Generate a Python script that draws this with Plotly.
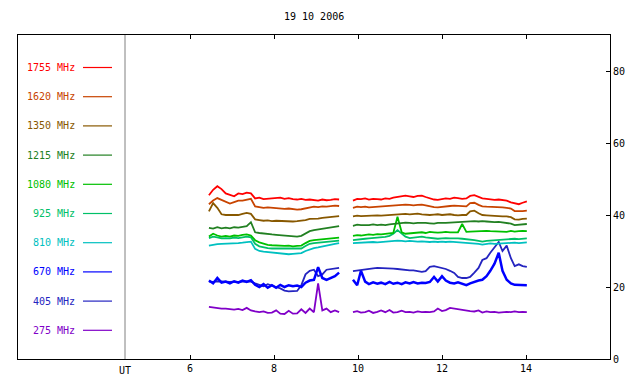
import plotly.graph_objects as go

# ---- data ----
title_text = "19 10 2006"
x_ticks = [6, 8, 10, 12, 14]
y_ticks = [0, 20, 40, 60, 80]

times_a = [6.45, 6.55, 6.65, 6.75, 6.85, 6.95, 7.05, 7.15, 7.25, 7.35, 7.45, 7.55,
           7.65, 7.75, 7.85, 7.95, 8.05, 8.15, 8.25, 8.35, 8.45, 8.55, 8.65, 8.75,
           8.85, 8.95, 9.05, 9.15, 9.25, 9.35, 9.45, 9.55]
times_b = [9.88, 9.98, 10.07, 10.17, 10.26, 10.36, 10.46, 10.55, 10.65, 10.75, 10.84,
           10.94, 11.04, 11.13, 11.23, 11.32, 11.42, 11.52, 11.61, 11.71, 11.81, 11.90,
           12.00, 12.09, 12.19, 12.29, 12.38, 12.48, 12.58, 12.67, 12.77, 12.87, 12.96,
           13.06, 13.15, 13.25, 13.35, 13.44, 13.54, 13.64, 13.73, 13.83, 13.92, 14.02]

labels = ["1755 MHz", "1620 MHz", "1350 MHz", "1215 MHz", "1080 MHz",
          "925 MHz", "810 MHz", "670 MHz", "405 MHz", "275 MHz"]

f1755_a = [45.5, 47.0, 48.0, 47.2, 46.0, 45.5, 45.2, 46.0, 45.8, 46.2, 46.0, 44.6, 44.8, 44.4, 44.5, 44.7,
           44.6, 44.8, 44.5, 44.7, 44.4, 44.3, 44.5, 44.2, 44.3, 44.2, 44.0, 44.3, 44.1, 44.2, 44.4, 44.3]
f1755_b = [44.0, 44.5, 44.4, 44.6, 44.3, 44.5, 44.4, 44.3, 44.6, 44.5, 44.8, 45.0, 45.2, 45.4, 45.2,
           45.0, 45.3, 45.4, 45.0, 44.6, 44.3, 44.2, 44.5, 44.6, 44.5, 44.8, 44.7, 44.5, 44.6, 45.3,
           45.5, 45.0, 44.6, 44.5, 44.4, 44.2, 44.3, 44.2, 44.0, 43.5, 43.3, 43.0, 43.4, 43.8]

f1620_a = [43.0, 44.0, 44.7, 44.2, 43.5, 43.2, 43.6, 44.0, 44.0, 44.3, 44.5, 42.4, 42.2, 42.0, 42.1, 42.0,
           41.8, 41.9, 41.7, 41.8, 41.6, 41.5, 41.6, 41.8, 42.0, 42.3, 42.2, 42.4, 42.3, 42.5, 42.6, 42.5]
f1620_b = [42.0, 42.3, 42.2, 42.3, 42.1, 42.2, 42.3, 42.2, 42.4, 42.5, 42.6, 42.7, 42.8, 42.9, 42.8,
           42.7, 42.8, 42.9, 42.7, 42.4, 42.2, 42.1, 42.3, 42.4, 42.5, 42.6, 42.5, 42.4, 42.4, 43.3,
           43.4, 42.8, 42.4, 42.3, 42.3, 42.2, 42.2, 42.1, 42.0, 41.8, 41.1, 41.0, 41.1, 41.2]

f1350_a = [41.0, 43.3, 42.0, 40.2, 40.0, 40.0, 40.2, 40.0, 40.3, 40.6, 40.3, 38.8, 38.6, 38.4, 38.5, 38.3,
           38.4, 38.3, 38.2, 38.3, 38.2, 38.3, 38.4, 38.6, 38.9, 38.9, 39.0, 39.2, 39.3, 39.4, 39.6, 39.7]
f1350_b = [39.6, 39.8, 39.7, 39.8, 39.7, 39.8, 39.9, 39.8, 39.9, 40.0, 40.1, 40.2, 40.1, 40.3, 40.2,
           40.3, 40.4, 40.2, 40.1, 40.0, 40.1, 40.2, 40.0, 40.1, 40.2, 40.0, 39.9, 40.0, 40.0, 41.0,
           41.2, 40.5, 40.0, 39.9, 39.8, 39.8, 39.7, 39.6, 39.6, 39.4, 38.8, 38.7, 38.9, 39.0]

f1215_a = [36.4, 36.2, 36.6, 36.3, 36.5, 36.3, 36.6, 36.5, 36.7, 36.9, 38.0, 35.2, 35.0, 34.8, 34.8, 34.6,
           34.5, 34.4, 34.3, 34.2, 34.0, 34.0, 34.2, 34.8, 35.5, 35.8, 36.0, 36.2, 36.3, 36.5, 36.7, 36.9]
f1215_b = [37.0, 37.3, 37.2, 37.1, 37.2, 37.4, 37.2, 37.3, 37.2, 37.4, 37.5, 37.6, 37.8, 37.9, 37.8,
           37.7, 37.8, 37.9, 37.8, 37.7, 37.6, 37.8, 37.7, 37.8, 37.9, 38.0, 37.9, 38.0, 38.1, 38.2,
           38.3, 38.2, 38.3, 38.2, 38.1, 38.0, 38.1, 38.0, 37.9, 37.6, 37.2, 37.3, 37.4, 37.5]

f1080_a = [34.0, 34.8, 34.3, 34.0, 34.2, 34.0, 34.3, 34.2, 34.5, 34.6, 34.3, 33.0, 32.4, 32.0, 31.7, 31.6,
           31.5, 31.4, 31.4, 31.5, 31.3, 31.4, 31.5, 32.2, 32.8, 33.0, 33.1, 33.3, 33.4, 33.5, 33.6, 33.7]
f1080_b = [34.2, 34.4, 34.3, 34.5, 34.6, 34.5, 34.7, 34.6, 34.8, 34.9, 35.0, 39.5, 35.2, 34.8, 34.9,
           35.0, 35.1, 35.2, 35.0, 35.3, 35.2, 35.1, 35.2, 35.3, 35.2, 35.3, 35.2, 37.5, 35.3, 35.4,
           35.5, 35.6, 35.7, 35.6, 35.5, 35.4, 35.5, 35.4, 35.3, 35.6, 35.4, 35.5, 35.6, 35.5]

f925_a = [33.6, 34.0, 33.8, 33.5, 33.6, 33.5, 33.7, 33.6, 33.8, 34.0, 33.8, 32.0, 31.3, 31.0, 30.8, 30.7,
          30.7, 30.6, 30.6, 30.7, 30.5, 30.6, 30.7, 31.4, 32.0, 32.2, 32.3, 32.4, 32.5, 32.6, 32.8, 32.9]
f925_b = [33.0, 33.2, 33.3, 33.4, 33.5, 33.6, 33.6, 33.8, 33.9, 34.2, 34.8, 35.8, 34.8, 34.0, 33.6,
          33.7, 33.8, 34.0, 33.8, 33.6, 33.5, 33.4, 33.5, 33.6, 33.5, 33.6, 33.5, 33.4, 33.3, 33.2,
          33.0, 32.8, 32.6, 32.8, 32.9, 33.0, 33.1, 33.2, 33.2, 33.3, 33.4, 33.3, 33.4, 33.5]

f810_a = [31.5, 31.8, 31.9, 32.0, 32.0, 32.1, 32.2, 32.2, 32.3, 32.4, 32.6, 30.6, 30.0, 29.8, 29.7, 29.5,
          29.3, 29.2, 29.2, 29.1, 29.2, 29.3, 29.4, 30.0, 30.5, 30.8, 31.0, 31.3, 31.5, 31.8, 32.0, 32.2]
f810_b = [32.2, 32.3, 32.4, 32.3, 32.4, 32.5, 32.4, 32.5, 32.6, 32.7, 32.8, 32.9, 32.8, 32.7, 32.8,
          32.7, 32.6, 32.7, 32.6, 32.5, 32.6, 32.5, 32.6, 32.5, 32.6, 32.5, 32.4, 32.5, 32.4, 32.3,
          32.2, 32.0, 31.8, 32.0, 32.1, 32.0, 32.1, 32.0, 32.1, 32.2, 32.3, 32.2, 32.3, 32.4]

f670_a = [21.8, 21.0, 22.5, 21.2, 21.5, 21.0, 21.6, 21.2, 21.8, 21.4, 21.9, 20.6, 20.0, 20.8, 19.8, 20.5,
          19.8, 20.6, 20.0, 20.5, 20.2, 20.4, 20.0, 21.2, 21.8, 22.0, 25.5, 22.5, 22.0, 22.5, 23.0, 24.0]
f670_b = [22.0, 20.5, 24.5, 21.5, 20.8, 21.3, 20.9, 21.2, 20.8, 21.4, 20.9, 21.2, 20.8, 21.3, 21.0,
          21.4, 21.0, 21.2, 21.1, 21.4, 22.8, 21.5, 23.0, 21.8, 21.2, 21.0, 21.3, 20.8, 20.5, 21.0,
          21.5, 21.8, 22.0, 23.0, 24.5, 26.5, 29.5, 24.5, 22.0, 21.0, 20.6, 20.5, 20.4, 20.5]

f405_a = [21.5, 21.4, 21.6, 21.5, 21.5, 21.4, 21.5, 21.4, 21.6, 21.5, 21.5, 21.0, 20.5, 20.2, 20.8, 20.5,
          20.0, 19.6, 19.0, 18.8, 18.8, 18.9, 20.5, 23.5, 24.5, 24.8, 23.0, 23.5, 24.8, 25.0, 25.2, 25.3]
f405_b = [24.4, 24.6, 24.8, 25.0, 25.0, 25.2, 25.3, 25.3, 25.3, 25.2, 25.1, 25.0, 24.8, 24.7, 24.6,
          24.6, 24.4, 24.2, 24.4, 25.6, 25.8, 25.6, 25.3, 25.0, 24.5, 23.9, 22.8, 22.5, 22.5, 22.8,
          24.0, 25.3, 27.5, 28.0, 29.5, 31.0, 32.5, 30.0, 31.5, 28.0, 25.8, 26.3, 25.8, 25.6]

f275_a = [14.5, 14.3, 14.2, 14.0, 14.0, 13.8, 13.7, 13.9, 13.6, 14.2, 13.5, 13.2, 13.0, 13.2, 12.8, 12.9,
          13.5, 12.6, 12.5, 13.4, 12.6, 12.7, 13.8, 12.8, 14.0, 13.0, 21.0, 13.5, 14.0, 13.0, 13.5, 13.0]
f275_b = [13.0, 13.3, 12.9, 13.0, 13.4, 12.8, 13.1, 13.5, 13.0, 13.6, 12.9, 13.0, 13.4, 13.0, 13.1,
          12.9, 13.2, 13.0, 13.1, 13.0, 13.2, 14.0, 13.3, 13.6, 14.2, 14.0, 13.8, 13.5, 13.4, 13.3,
          13.2, 13.5, 12.9, 13.2, 13.0, 13.1, 12.9, 13.0, 13.1, 13.0, 13.2, 13.0, 13.1, 13.0]

series_a = [f1755_a, f1620_a, f1350_a, f1215_a, f1080_a, f925_a, f810_a, f670_a, f405_a, f275_a]
series_b = [f1755_b, f1620_b, f1350_b, f1215_b, f1080_b, f925_b, f810_b, f670_b, f405_b, f275_b]

# ---- styles ----
colors = ["#ff0000", "#c84400", "#885800", "#228022", "#00c000",
          "#00c068", "#00c0c0", "#0000ff", "#2424c0", "#8000c8"]
widths = [1.8, 1.8, 1.8, 1.8, 1.8, 1.8, 1.8, 2.5, 1.8, 1.8]
MONO = "DejaVu Sans Mono"

fig = go.Figure()
for i in reversed(range(len(labels))):
    fig.add_trace(go.Scatter(
        x=times_a + [None] + times_b,
        y=series_a[i] + [None] + series_b[i],
        mode="lines",
        line=dict(color=colors[i], width=widths[i]),
        name=labels[i],
        connectgaps=False,
        hoverinfo="skip",
    ))

# page offset of the plot div (default body margin of the html page)
OFF = 8
FIG_W, FIG_H = 624, 376
# plot area in page pixels: left 18, right 610, top 35, bottom 359
L, R, T, B = 18, 610, 35, 359
W, H = R - L, B - T

def px(xp):
    return (xp - L) / W

def py(yp):
    return (B - yp) / H

annotations = []
shapes = []
for i, lab in enumerate(labels):
    yy = py(67.5 + i * 29.2)
    annotations.append(dict(x=px(77), y=yy, xref="paper", yref="paper", text=lab,
                            showarrow=False, xanchor="right", yanchor="middle",
                            font=dict(family=MONO, size=10, color=colors[i])))
    shapes.append(dict(type="line", xref="paper", yref="paper", x0=px(83), x1=px(112),
                       y0=yy, y1=yy, line=dict(color=colors[i], width=1.2)))

ut_x = 4.452
shapes.append(dict(type="line", xref="x", yref="paper", x0=ut_x, x1=ut_x, y0=0, y1=1,
                   line=dict(color="#808080", width=1)))
annotations.append(dict(x=ut_x, y=py(370), xref="x", yref="paper", text="UT", showarrow=False,
                        xanchor="center", yanchor="middle",
                        font=dict(family=MONO, size=10, color="black")))
annotations.append(dict(x=0.5, y=py(17), xref="paper", yref="paper", text=title_text,
                        showarrow=False, xanchor="center", yanchor="middle",
                        font=dict(family=MONO, size=10, color="black")))

fig.update_layout(
    width=FIG_W, height=FIG_H,
    margin=dict(l=L - OFF, r=FIG_W - (R - OFF), t=T - OFF, b=FIG_H - (B - OFF), pad=0,
                autoexpand=False),
    paper_bgcolor="white", plot_bgcolor="white",
    showlegend=False,
    font=dict(family=MONO, size=10, color="black"),
    annotations=annotations, shapes=shapes,
    xaxis=dict(range=[1.904, 16.0], tickvals=x_ticks, ticktext=[str(v) for v in x_ticks],
               ticks="inside", ticklen=4, tickcolor="black", showline=True, linecolor="black",
               linewidth=1, mirror="ticks", showgrid=False, zeroline=False, automargin=False,
               tickfont=dict(family=MONO, size=10, color="black")),
    yaxis=dict(range=[0, 90], tickvals=y_ticks, side="right",
               ticks="inside", ticklen=4, tickcolor="black", showline=True, linecolor="black",
               linewidth=1, mirror=True, showgrid=False, zeroline=False, automargin=False,
               tickfont=dict(family=MONO, size=10, color="black")),
)

fig.write_html("out.html")
